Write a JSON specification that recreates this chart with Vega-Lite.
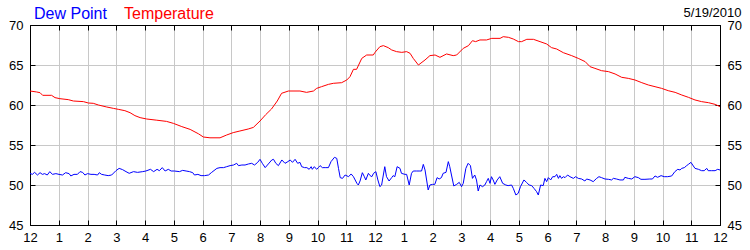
{
"$schema": "https://vega.github.io/schema/vega-lite/v6.json",
"width": 690, "height": 200,
"autosize": {"type": "none"},
"padding": {"left": 30, "top": 25, "right": 30, "bottom": 25},
"background": "white",
"config": {"font": "Liberation Sans", "view": {"stroke": "black", "strokeWidth": 1}},
"title": {"text": "5/19/2010", "anchor": "end", "fontSize": 13, "fontWeight": "normal", "color": "black", "offset": -14},
"datasets": {
"dew": [
{"hour":0,"value":51.46},{"hour":0.08,"value":51.33},{"hour":0.16,"value":51.58},{"hour":0.26,"value":51.25},{"hour":0.35,"value":51.54},{"hour":0.43,"value":51.33},{"hour":0.51,"value":51.42},{"hour":0.6,"value":51.25},{"hour":0.69,"value":51.67},{"hour":0.78,"value":51.33},{"hour":0.9,"value":51.42},{"hour":1.01,"value":51.33},{"hour":1.13,"value":51.25},{"hour":1.24,"value":51.54},{"hour":1.36,"value":51.42},{"hour":1.42,"value":51.13},{"hour":1.53,"value":51.33},{"hour":1.65,"value":51.33},{"hour":1.74,"value":51.67},{"hour":1.83,"value":51.58},{"hour":1.91,"value":51.25},{"hour":2.0,"value":51.42},{"hour":2.12,"value":51.33},{"hour":2.23,"value":51.33},{"hour":2.35,"value":51.25},{"hour":2.41,"value":51.54},{"hour":2.49,"value":51.33},{"hour":2.6,"value":51.25},{"hour":2.72,"value":51.17},{"hour":2.84,"value":51.25},{"hour":2.99,"value":51.79},{"hour":3.1,"value":52.08},{"hour":3.22,"value":51.92},{"hour":3.34,"value":51.67},{"hour":3.45,"value":51.46},{"hour":3.6,"value":51.67},{"hour":3.74,"value":51.58},{"hour":3.92,"value":51.67},{"hour":4.03,"value":51.75},{"hour":4.19,"value":51.96},{"hour":4.3,"value":51.67},{"hour":4.42,"value":51.96},{"hour":4.5,"value":51.79},{"hour":4.6,"value":52.17},{"hour":4.7,"value":51.75},{"hour":4.81,"value":51.96},{"hour":4.91,"value":51.75},{"hour":5.02,"value":51.75},{"hour":5.2,"value":51.67},{"hour":5.31,"value":51.83},{"hour":5.43,"value":51.75},{"hour":5.55,"value":51.67},{"hour":5.66,"value":51.54},{"hour":5.72,"value":51.25},{"hour":5.84,"value":51.33},{"hour":5.95,"value":51.17},{"hour":6.07,"value":51.17},
{"hour":6.21,"value":51.25},{"hour":6.32,"value":51.58},{"hour":6.5,"value":52.08},{"hour":6.61,"value":52.17},{"hour":6.73,"value":52.17},{"hour":6.84,"value":52.29},{"hour":6.96,"value":52.42},{"hour":7.08,"value":52.5},{"hour":7.19,"value":52.71},{"hour":7.25,"value":52.42},{"hour":7.37,"value":52.5},{"hour":7.48,"value":52.5},{"hour":7.6,"value":52.63},{"hour":7.71,"value":52.71},{"hour":7.81,"value":52.5},{"hour":7.92,"value":52.83},{"hour":8.0,"value":53.21},{"hour":8.08,"value":52.71},{"hour":8.18,"value":52.17},{"hour":8.29,"value":52.63},{"hour":8.41,"value":53.13},{"hour":8.47,"value":53.21},{"hour":8.55,"value":52.71},{"hour":8.64,"value":52.42},{"hour":8.76,"value":53.13},{"hour":8.87,"value":52.71},{"hour":8.97,"value":52.92},{"hour":9.05,"value":53.13},{"hour":9.13,"value":52.83},{"hour":9.22,"value":53.21},{"hour":9.31,"value":52.71},{"hour":9.39,"value":52.83},{"hour":9.45,"value":52.29},{"hour":9.55,"value":52.17},{"hour":9.63,"value":52.17},{"hour":9.71,"value":51.96},{"hour":9.78,"value":52.29},{"hour":9.82,"value":51.96},{"hour":9.89,"value":52.29},{"hour":9.97,"value":51.96},{"hour":10.03,"value":52.17},{"hour":10.09,"value":52.42},{"hour":10.17,"value":52.17},{"hour":10.29,"value":52.17},{"hour":10.38,"value":52.17},{"hour":10.47,"value":52.92},{"hour":10.59,"value":53.46},{"hour":10.67,"value":53.33},{"hour":10.73,"value":52.08},{"hour":10.79,"value":50.92},{"hour":10.87,"value":50.83},{"hour":10.96,"value":51.25},{"hour":11.08,"value":51.04},{"hour":11.17,"value":51.38},{"hour":11.25,"value":51.04},{"hour":11.37,"value":50.21},{"hour":11.42,"value":50.0},{"hour":11.48,"value":50.5},{"hour":11.56,"value":51.54},{"hour":11.63,"value":51.04},{"hour":11.68,"value":50.63},{"hour":11.77,"value":51.46},{"hour":11.83,"value":51.17},{"hour":11.89,"value":51.04},{"hour":11.95,"value":51.46},{"hour":12.03,"value":51.67},{"hour":12.1,"value":50.63},
{"hour":12.17,"value":49.79},{"hour":12.23,"value":50.0},{"hour":12.34,"value":52.29},{"hour":12.4,"value":51.04},{"hour":12.49,"value":50.5},{"hour":12.58,"value":50.92},{"hour":12.63,"value":51.17},{"hour":12.69,"value":51.04},{"hour":12.77,"value":52.29},{"hour":12.87,"value":52.08},{"hour":12.92,"value":51.46},{"hour":13.04,"value":51.33},{"hour":13.1,"value":51.33},{"hour":13.19,"value":50.0},{"hour":13.27,"value":51.46},{"hour":13.33,"value":51.75},{"hour":13.45,"value":51.75},{"hour":13.56,"value":51.75},{"hour":13.62,"value":51.75},{"hour":13.68,"value":52.58},{"hour":13.74,"value":51.88},{"hour":13.85,"value":49.38},{"hour":13.91,"value":50.0},{"hour":14.0,"value":50.08},{"hour":14.08,"value":50.08},{"hour":14.16,"value":50.92},{"hour":14.23,"value":50.75},{"hour":14.31,"value":50.92},{"hour":14.37,"value":51.46},{"hour":14.47,"value":51.58},{"hour":14.55,"value":52.92},{"hour":14.6,"value":52.29},{"hour":14.66,"value":51.25},{"hour":14.74,"value":49.88},{"hour":14.84,"value":50.08},{"hour":14.93,"value":50.33},{"hour":15.01,"value":49.79},{"hour":15.07,"value":50.21},{"hour":15.16,"value":52.08},{"hour":15.24,"value":52.71},{"hour":15.32,"value":52.42},{"hour":15.39,"value":50.83},{"hour":15.47,"value":51.25},{"hour":15.53,"value":50.63},{"hour":15.59,"value":49.25},{"hour":15.65,"value":50.0},{"hour":15.74,"value":49.79},{"hour":15.82,"value":50.0},{"hour":15.88,"value":50.42},{"hour":15.94,"value":50.83},{"hour":16.0,"value":50.21},{"hour":16.05,"value":51.04},{"hour":16.11,"value":50.63},{"hour":16.17,"value":50.08},{"hour":16.25,"value":50.63},{"hour":16.34,"value":51.04},{"hour":16.44,"value":50.21},{"hour":16.55,"value":50.0},{"hour":16.63,"value":49.92},{"hour":16.75,"value":50.0},{"hour":16.81,"value":49.58},{"hour":16.9,"value":48.75},{"hour":16.98,"value":48.96},{"hour":17.06,"value":49.79},{"hour":17.18,"value":50.63},{"hour":17.27,"value":50.33},{"hour":17.36,"value":50.0},{"hour":17.45,"value":49.92},{"hour":17.53,"value":49.58},{"hour":17.62,"value":49.17},{"hour":17.68,"value":48.75},{"hour":17.76,"value":50.0},{"hour":17.85,"value":49.92},{"hour":17.91,"value":50.83},{"hour":17.97,"value":50.42},{"hour":18.03,"value":50.92},{"hour":18.11,"value":50.63},{"hour":18.18,"value":51.04},
{"hour":18.26,"value":51.04},{"hour":18.32,"value":51.33},{"hour":18.38,"value":50.83},{"hour":18.43,"value":51.17},{"hour":18.49,"value":50.83},{"hour":18.55,"value":51.04},{"hour":18.61,"value":50.92},{"hour":18.7,"value":51.25},{"hour":18.78,"value":51.04},{"hour":18.9,"value":50.83},{"hour":18.98,"value":51.04},{"hour":19.07,"value":50.83},{"hour":19.19,"value":50.75},{"hour":19.3,"value":50.5},{"hour":19.36,"value":50.75},{"hour":19.48,"value":50.63},{"hour":19.59,"value":50.42},{"hour":19.71,"value":50.83},{"hour":19.79,"value":51.04},{"hour":19.88,"value":50.92},{"hour":20.0,"value":50.75},{"hour":20.12,"value":50.71},{"hour":20.23,"value":50.63},{"hour":20.29,"value":50.83},{"hour":20.4,"value":50.75},{"hour":20.52,"value":50.63},{"hour":20.64,"value":50.63},{"hour":20.69,"value":50.96},{"hour":20.81,"value":50.83},{"hour":20.93,"value":50.75},{"hour":21.04,"value":51.04},{"hour":21.16,"value":50.92},{"hour":21.25,"value":50.71},{"hour":21.39,"value":50.71},{"hour":21.56,"value":50.75},{"hour":21.65,"value":50.75},{"hour":21.74,"value":51.13},{"hour":21.83,"value":50.96},{"hour":21.95,"value":51.17},{"hour":22.06,"value":51.04},{"hour":22.18,"value":51.04},{"hour":22.32,"value":51.13},{"hour":22.43,"value":51.67},{"hour":22.53,"value":51.96},{"hour":22.61,"value":51.88},{"hour":22.67,"value":52.08},{"hour":22.76,"value":52.17},{"hour":22.84,"value":52.42},{"hour":22.9,"value":52.58},{"hour":22.99,"value":52.83},{"hour":23.05,"value":52.5},{"hour":23.13,"value":52.08},{"hour":23.25,"value":51.96},{"hour":23.36,"value":51.79},{"hour":23.45,"value":51.79},{"hour":23.54,"value":52.08},{"hour":23.59,"value":51.79},{"hour":23.71,"value":51.79},{"hour":23.83,"value":51.79},{"hour":23.92,"value":51.96},{"hour":24.0,"value":51.88}
],
"temp": [
{"hour":0,"value":61.75},{"hour":0.23,"value":61.63},{"hour":0.35,"value":61.54},{"hour":0.44,"value":61.21},{"hour":0.75,"value":61.21},{"hour":0.87,"value":60.92},{"hour":1.04,"value":60.79},{"hour":1.33,"value":60.67},{"hour":1.51,"value":60.5},{"hour":1.86,"value":60.42},{"hour":2.03,"value":60.25},{"hour":2.2,"value":60.21},{"hour":2.38,"value":60.0},{"hour":2.67,"value":59.75},{"hour":2.9,"value":59.58},{"hour":3.07,"value":59.46},{"hour":3.3,"value":59.29},{"hour":3.48,"value":59.04},{"hour":3.65,"value":58.67},{"hour":3.83,"value":58.42},{"hour":4.06,"value":58.25},{"hour":4.41,"value":58.1},{"hour":4.75,"value":57.95},{"hour":4.99,"value":57.7},{"hour":5.28,"value":57.3},{"hour":5.57,"value":56.95},{"hour":5.86,"value":56.4},{"hour":6.03,"value":56.0},{"hour":6.26,"value":55.9},{"hour":6.61,"value":55.9},{"hour":6.84,"value":56.25},{"hour":7.07,"value":56.55},{"hour":7.3,"value":56.75},{"hour":7.59,"value":57.0},{"hour":7.77,"value":57.2},{"hour":8.0,"value":58.0},{"hour":8.2,"value":58.8},{"hour":8.4,"value":59.5},{"hour":8.6,"value":60.5},{"hour":8.75,"value":61.46},{"hour":8.99,"value":61.75},{"hour":9.39,"value":61.75},{"hour":9.62,"value":61.58},{"hour":9.86,"value":61.75},{"hour":9.97,"value":62.08},{"hour":10.14,"value":62.29},{"hour":10.38,"value":62.58},{"hour":10.55,"value":62.71},{"hour":10.84,"value":62.79},{"hour":11.02,"value":63.13},{"hour":11.13,"value":63.54},{"hour":11.25,"value":64.46},{"hour":11.36,"value":64.46},{"hour":11.54,"value":65.83},{"hour":11.71,"value":66.25},{"hour":11.94,"value":66.25},{"hour":12.0,"value":66.58},{"hour":12.17,"value":67.29},{"hour":12.29,"value":67.42},{"hour":12.46,"value":67.17},{"hour":12.58,"value":66.88},{"hour":12.75,"value":66.67},{"hour":12.93,"value":66.58},{"hour":13.1,"value":66.67},{"hour":13.22,"value":66.46},{"hour":13.33,"value":65.83},{"hour":13.51,"value":65.0},{"hour":13.74,"value":65.63},{"hour":13.91,"value":66.17},{"hour":14.09,"value":66.25},{"hour":14.26,"value":65.96},{"hour":14.49,"value":66.38},{"hour":14.72,"value":66.17},{"hour":14.84,"value":66.25},{"hour":15.07,"value":67.08},{"hour":15.25,"value":67.42},{"hour":15.39,"value":68.04},{"hour":15.5,"value":67.92},{"hour":15.65,"value":68.13},{"hour":15.88,"value":68.13},{"hour":16.06,"value":68.33},{"hour":16.35,"value":68.33},{"hour":16.46,"value":68.54},{"hour":16.64,"value":68.46},{"hour":16.81,"value":68.25},{"hour":16.99,"value":67.92},{"hour":17.1,"value":67.92},{"hour":17.28,"value":68.21},{"hour":17.51,"value":68.21},{"hour":17.74,"value":67.92},{"hour":17.97,"value":67.63},{"hour":18.14,"value":67.17},{"hour":18.32,"value":67.0},{"hour":18.55,"value":66.54},{"hour":18.84,"value":66.17},{"hour":19.07,"value":65.83},{"hour":19.31,"value":65.42},{"hour":19.48,"value":64.79},{"hour":19.65,"value":64.58},{"hour":19.88,"value":64.29},{"hour":20.12,"value":64.17},{"hour":20.35,"value":63.88},{"hour":20.58,"value":63.46},{"hour":20.81,"value":63.33},{"hour":21.04,"value":63.13},{"hour":21.28,"value":62.79},{"hour":21.51,"value":62.5},{"hour":21.74,"value":62.29},{"hour":21.97,"value":62.08},{"hour":22.2,"value":61.79},{"hour":22.44,"value":61.58},{"hour":22.67,"value":61.25},{"hour":22.9,"value":60.96},{"hour":23.13,"value":60.63},{"hour":23.36,"value":60.42},{"hour":23.6,"value":60.29},{"hour":23.83,"value":60.08},{"hour":24.0,"value":59.8}
]
},
"layer": [
{
"data": {"name": "dew"},
"transform": [{"calculate": "'Dew Point'", "as": "series"}],
"mark": {"type": "line", "strokeWidth": 1, "clip": true},
"encoding": {
"x": {"field": "hour", "type": "quantitative", "scale": {"domain": [0, 24], "nice": false, "zero": false},
"axis": {"orient": "bottom", "title": null, "values": [0,1,2,3,4,5,6,7,8,9,10,11,12,13,14,15,16,17,18,19,20,21,22,23,24],
"labelExpr": "datum.value % 12 == 0 ? '12' : '' + (datum.value % 12)", "grid": true, "gridColor": "#c8c8c8", "gridOpacity": 1,
"domainColor": "black", "tickColor": "black", "tickSize": -5, "labelPadding": 11, "labelFontSize": 13, "labelColor": "black", "labelFlush": false, "labelOverlap": false}},
"y": {"field": "value", "type": "quantitative", "scale": {"domain": [45, 70], "nice": false, "zero": false},
"axis": {"orient": "left", "title": null, "values": [45,50,55,60,65,70], "grid": true, "gridColor": "#c8c8c8", "gridOpacity": 1,
"domainColor": "black", "tickColor": "black", "tickSize": -5, "labelPadding": 12, "labelFontSize": 13, "labelColor": "black", "labelFlush": false, "labelOverlap": false}},
"color": {"field": "series", "type": "nominal", "scale": {"domain": ["Dew Point", "Temperature"], "range": ["#0000ff", "#ff0000"]},
"legend": {"orient": "none", "legendX": -12, "legendY": -19, "direction": "horizontal", "title": null, "symbolSize": 0, "symbolStrokeWidth": 0, "symbolOpacity": 0,
"labelFontSize": 16, "labelOffset": 0, "columnPadding": 1, "padding": 0,
"encode": {"labels": {"update": {"fill": [{"test": "datum.value === 'Dew Point'", "value": "#0000ff"}, {"value": "#ff0000"}]}}}}}
}
},
{
"data": {"name": "temp"},
"transform": [{"calculate": "'Temperature'", "as": "series"}],
"mark": {"type": "line", "strokeWidth": 1, "clip": true},
"encoding": {
"x": {"field": "hour", "type": "quantitative", "scale": {"domain": [0, 24], "nice": false, "zero": false},
"axis": {"orient": "top", "title": null, "values": [0,1,2,3,4,5,6,7,8,9,10,11,12,13,14,15,16,17,18,19,20,21,22,23,24],
"labels": false, "grid": false, "domainColor": "black", "tickColor": "black", "tickSize": -5}},
"y": {"field": "value", "type": "quantitative", "scale": {"domain": [45, 70], "nice": false, "zero": false},
"axis": {"orient": "right", "title": null, "values": [45,50,55,60,65,70], "grid": false,
"domainColor": "black", "tickColor": "black", "tickSize": -5, "labelPadding": 12, "labelFontSize": 13, "labelColor": "black", "labelFlush": false, "labelOverlap": false}},
"color": {"field": "series", "type": "nominal"}
}
}
],
"resolve": {"axis": {"x": "independent", "y": "independent"}}
}
